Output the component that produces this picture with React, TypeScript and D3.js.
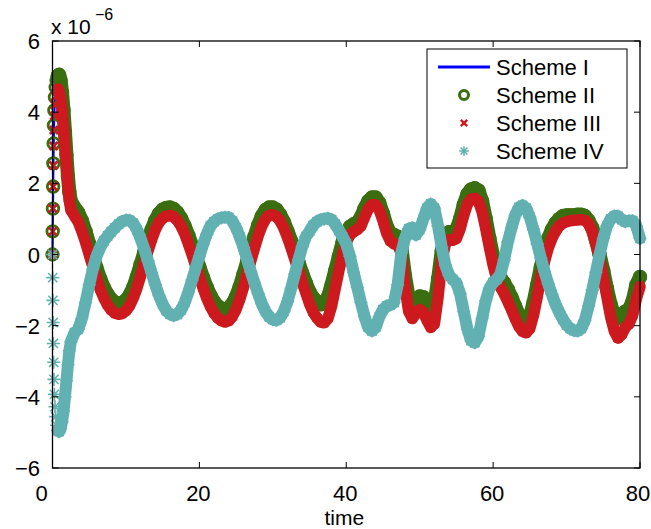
import React from 'react';
import * as d3 from 'd3';

const W = 651;
const H = 529;

const xTicks = [0, 20, 40, 60, 80];
const yTicks = [-6, -4, -2, 0, 2, 4, 6];
const legendLabels = ['Scheme I', 'Scheme II', 'Scheme III', 'Scheme IV'];

// dense sampling at the steep start, then every 0.5 time units
const timeStart = [0, 0.03, 0.06, 0.09, 0.12, 0.16, 0.2, 0.26, 0.34, 0.44, 0.56, 0.72, 0.9, 1.1, 1.3, 1.5, 1.7, 1.9, 2.1, 2.3];
const time = timeStart.concat(d3.range(2.5, 80.001, 0.5));

// values in units of 1e-6
const schemeII = [
  0, 0.65, 1.29, 1.91, 2.56, 3.12, 3.63, 4.05, 4.42, 4.7, 4.9, 5.02, 5.05, 4.9, 4.55, 4.05, 3.45, 2.8, 2.2, 1.75,
  1.5, 1.32, 1.18, 0.95, 0.65, 0.3, -0.05, -0.38, -0.68, -0.93,
  -1.12, -1.26, -1.35, -1.38, -1.36, -1.28, -1.14, -0.92, -0.62, -0.28,
  0.06, 0.4, 0.7, 0.96, 1.15, 1.26, 1.31, 1.32, 1.28, 1.18,
  1.02, 0.8, 0.54, 0.25, -0.05, -0.35, -0.65, -0.92, -1.15, -1.33,
  -1.45, -1.52, -1.54, -1.5, -1.38, -1.18, -0.9, -0.56, -0.2, 0.16,
  0.5, 0.82, 1.08, 1.25, 1.32, 1.32, 1.26, 1.12, 0.92, 0.66,
  0.38, 0.08, -0.22, -0.52, -0.8, -1.05, -1.22, -1.32, -1.4, -1.38,
  -1.2, -0.85, -0.45, -0.05, 0.35, 0.62, 0.78, 0.85, 0.9, 1.05,
  1.3, 1.5, 1.6, 1.6, 1.45, 1.15, 0.8, 0.6, 0.55, 0.5,
  0.2, -0.6, -1.2, -1.4, -1.3, -1.18, -1.2, -1.4, -1.55, -1.4,
  -0.7, 0.1, 0.55, 0.63, 0.62, 0.7, 1.0, 1.4, 1.7, 1.83,
  1.86, 1.8, 1.5, 1.0, 0.45, -0.05, -0.45, -0.65, -0.8, -0.98,
  -1.2, -1.45, -1.7, -1.88, -1.92, -1.75, -1.35, -0.85, -0.35, 0.1,
  0.45, 0.7, 0.88, 1.0, 1.08, 1.1, 1.1, 1.1, 1.12, 1.12,
  1.08, 0.95, 0.75, 0.4, 0.0, -0.45, -0.95, -1.4, -1.7, -1.8,
  -1.7, -1.6, -1.55, -1.3, -0.85, -0.63,
];

// Scheme I coincides with Scheme II (only visible at the start)
const schemeI = schemeII;

const schemeIII = [
  0, 0.65, 1.29, 1.91, 2.5, 3.05, 3.5, 3.9, 4.2, 4.45, 4.6, 4.65, 4.6, 4.4, 4.05, 3.6, 3.05, 2.5, 1.95, 1.5,
  1.25, 1.08, 0.92, 0.65, 0.35, 0.0, -0.35, -0.68, -0.98, -1.22,
  -1.42, -1.56, -1.65, -1.68, -1.66, -1.58, -1.44, -1.22, -0.94, -0.6,
  -0.25, 0.1, 0.42, 0.7, 0.9, 1.02, 1.08, 1.1, 1.06, 0.96,
  0.8, 0.58, 0.3, 0.0, -0.32, -0.64, -0.94, -1.22, -1.46, -1.65,
  -1.78, -1.86, -1.9, -1.86, -1.74, -1.54, -1.26, -0.92, -0.55, -0.18,
  0.18, 0.52, 0.8, 1.0, 1.1, 1.12, 1.06, 0.94, 0.74, 0.48,
  0.18, -0.14, -0.46, -0.78, -1.08, -1.38, -1.62, -1.78, -1.9, -1.92,
  -1.8, -1.45, -0.95, -0.45, 0.0, 0.35, 0.55, 0.64, 0.7, 0.8,
  1.05, 1.28, 1.4, 1.4, 1.25, 0.95, 0.6, 0.38, 0.3, 0.26,
  0.05, -0.9, -1.6, -1.8, -1.65, -1.55, -1.62, -1.85, -2.05, -1.95,
  -1.2, -0.2, 0.3, 0.42, 0.4, 0.45, 0.72, 1.1, 1.42, 1.55,
  1.58, 1.5, 1.2, 0.72, 0.2, -0.3, -0.7, -0.92, -1.1, -1.32,
  -1.55, -1.8, -2.02, -2.16, -2.2, -2.08, -1.7, -1.2, -0.65, -0.2,
  0.18, 0.45, 0.65, 0.8, 0.88, 0.92, 0.95, 0.96, 0.97, 0.98,
  0.96, 0.86, 0.65, 0.3, -0.15, -0.65, -1.2, -1.75, -2.15, -2.35,
  -2.25, -2.05, -1.95, -1.7, -1.25, -0.9,
];

const schemeIV = [
  0, -0.65, -1.29, -1.91, -2.5, -3.03, -3.51, -3.93, -4.28, -4.56, -4.8, -4.95, -4.98, -4.9, -4.7, -4.4, -4.0, -3.55, -3.1, -2.7,
  -2.45, -2.2, -2.1, -1.8, -1.35, -0.85, -0.4, -0.05, 0.2, 0.38,
  0.52, 0.64, 0.75, 0.85, 0.93, 0.97, 0.96, 0.88, 0.7, 0.45,
  0.15, -0.18, -0.52, -0.85, -1.15, -1.4, -1.58, -1.68, -1.72, -1.68,
  -1.56, -1.35, -1.06, -0.72, -0.38, -0.05, 0.28, 0.57, 0.8, 0.92,
  1.0, 1.03, 1.05, 1.04, 0.94, 0.75, 0.5, 0.2, -0.14, -0.48,
  -0.8, -1.1, -1.38, -1.6, -1.75, -1.83, -1.85, -1.78, -1.6, -1.32,
  -0.95, -0.55, -0.15, 0.22, 0.5, 0.65, 0.82, 0.92, 0.98, 1.0,
  1.02, 0.98, 0.85, 0.68, 0.5, 0.3, -0.05, -0.5, -0.92, -1.35,
  -1.75, -2.05, -2.15, -2.05, -1.75, -1.55, -1.45, -1.42, -1.35, -0.85,
  0.05, 0.45, 0.72, 0.75, 0.55, 0.7, 1.0, 1.3, 1.42, 1.3,
  0.8, 0.2, -0.3, -0.58, -0.7, -0.8, -1.1, -1.6, -2.1, -2.42,
  -2.48, -2.3, -1.8, -1.3, -0.95, -0.78, -0.7, -0.55, -0.15, 0.35,
  0.75, 1.1, 1.32, 1.38, 1.3, 1.05, 0.7, 0.3, -0.1, -0.48,
  -0.82, -1.12, -1.4, -1.62, -1.82, -1.98, -2.08, -2.14, -2.15, -2.08,
  -1.85, -1.45, -1.0, -0.5, 0.0, 0.45, 0.8, 1.0, 1.08, 1.08,
  0.98, 0.92, 0.95, 0.95, 0.8, 0.45,
];

const BLUE = '#0000ff';
const GREEN = '#3a6e10';
const RED = '#cd1a1e';
const CYAN = '#62b1b2';
const FONT = '"Liberation Sans", Arial, Helvetica, sans-serif';

const circlePath = 'M0,0m-5.8,0a5.8,5.8 0 1,0 11.6,0a5.8,5.8 0 1,0 -11.6,0';
const xPath = 'M-4,-4L4,4M-4,4L4,-4';
const starPath = 'M-6.5,0H6.5M0,-6.5V6.5M-4.6,-4.6L4.6,4.6M-4.6,4.6L4.6,-4.6';

export default function App() {
  const x = d3.scaleLinear().domain([0, 80]).range([52.5, 640]);
  const y = d3.scaleLinear().domain([-6, 6]).range([468, 41]);

  const pts = (vals: number[]) => vals.map((v, i) => [time[i], v] as [number, number]);
  const line = d3.line<[number, number]>().x((d) => x(d[0])).y((d) => y(d[1]));
  const bandFrom = 11; // markers merge into a solid band from here on

  const p1 = pts(schemeI);
  const p2 = pts(schemeII);
  const p3 = pts(schemeIII);
  const p4 = pts(schemeIV);

  const [x0, x1] = x.range();
  const [yB, yT] = y.range();

  return (
    <svg width={W} height={H} style={{ position: 'absolute', left: 0, top: 0, background: '#fff' }} fontFamily={FONT}>
      <rect x={0} y={0} width={W} height={H} fill="#fff" />
      {/* Scheme I */}
      <path d={line(p1) || ''} fill="none" stroke={BLUE} strokeWidth={2.2} />
      {/* Scheme II */}
      <path d={line(p2.slice(bandFrom)) || ''} fill="none" stroke={GREEN} strokeWidth={14} strokeLinejoin="round" strokeLinecap="round" />
      {p2.map((d, i) => (
        <path key={'g' + i} d={circlePath} transform={`translate(${x(d[0])},${y(d[1])})`} fill="none" stroke={GREEN} strokeWidth={2.8} />
      ))}
      {/* Scheme III */}
      <path d={line(p3.slice(bandFrom)) || ''} fill="none" stroke={RED} strokeWidth={11.5} strokeLinejoin="round" strokeLinecap="round" />
      {p3.map((d, i) => (
        <path key={'r' + i} d={xPath} transform={`translate(${x(d[0])},${y(d[1])})`} fill="none" stroke={RED} strokeWidth={2.8} />
      ))}
      {/* Scheme IV */}
      <path d={line(p4.slice(bandFrom)) || ''} fill="none" stroke={CYAN} strokeWidth={12} strokeLinejoin="round" strokeLinecap="round" />
      {p4.map((d, i) => (
        <path key={'c' + i} d={starPath} transform={`translate(${x(d[0])},${y(d[1])})`} fill="none" stroke={CYAN} strokeWidth={1.6} />
      ))}

      {/* axes box */}
      <rect x={x0} y={yT} width={x1 - x0} height={yB - yT} fill="none" stroke="#000" strokeWidth={1.3} />
      {xTicks.map((t) => (
        <g key={'xt' + t}>
          <line x1={x(t)} x2={x(t)} y1={yB} y2={yB - 6} stroke="#000" strokeWidth={1} />
          <line x1={x(t)} x2={x(t)} y1={yT} y2={yT + 6} stroke="#000" strokeWidth={1} />
          <text x={x(t) + (t === 0 ? -11 : t === 80 ? -2 : -1)} y={501} fontSize={22} textAnchor="middle" fill="#000">
            {t}
          </text>
        </g>
      ))}
      {yTicks.map((t) => (
        <g key={'yt' + t}>
          <line x1={x0} x2={x0 + 6} y1={y(t)} y2={y(t)} stroke="#000" strokeWidth={1} />
          <line x1={x1} x2={x1 - 6} y1={y(t)} y2={y(t)} stroke="#000" strokeWidth={1} />
          <text x={40} y={y(t) + 8} fontSize={22} textAnchor="end" fill="#000">
            {t < 0 ? '\u2212' + Math.abs(t) : String(t)}
          </text>
        </g>
      ))}
      <text x={51} y={34} fontSize={21} fill="#000">x 10</text>
      <text x={95} y={20} fontSize={16} fill="#000">{'\u2212'}6</text>
      <text x={(x0 + x1) / 2 - 2} y={525} fontSize={21} textAnchor="middle" fill="#000">time</text>

      {/* legend */}
      <rect x={427} y={49} width={200} height={119} fill="#fff" stroke="#000" strokeWidth={1} />
      {legendLabels.map((lab, i) => {
        const cy = 67 + i * 28;
        return (
          <g key={lab}>
            {i === 0 && <line x1={438} x2={490} y1={cy} y2={cy} stroke={BLUE} strokeWidth={3} />}
            {i === 1 && <circle cx={464} cy={cy} r={4.5} fill="none" stroke={GREEN} strokeWidth={3} />}
            {i === 2 && <path d={xPath} transform={`translate(464,${cy}) scale(0.8)`} fill="none" stroke={RED} strokeWidth={3} />}
            {i === 3 && <path d={starPath} transform={`translate(464,${cy}) scale(0.75)`} fill="none" stroke={CYAN} strokeWidth={2} />}
            <text x={496} y={cy + 8} fontSize={22} fill="#000">{lab}</text>
          </g>
        );
      })}
    </svg>
  );
}
